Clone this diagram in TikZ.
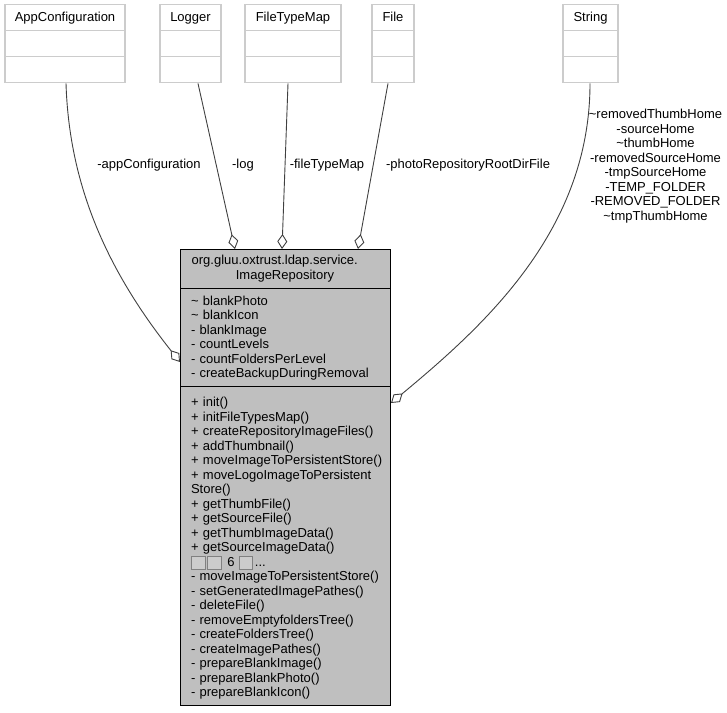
\documentclass[tikz,border=0pt]{standalone}
\usepackage{fontspec}
\setmainfont{Liberation Sans}
\usetikzlibrary{positioning,arrows.meta,shapes.multipart}

\definecolor{boxgray}{HTML}{BFBFBF}
\definecolor{edgegray}{HTML}{404040}
\definecolor{rimgray}{HTML}{CCCCCC}

% the boxes that the font could not fill
\newcommand{\tofu}{{\setlength{\fboxrule}{1pt}\fcolorbox{gray}{rimgray}{\rule{0pt}{6.5pt}\rule{6.5pt}{0pt}}}\hspace{1.5pt}}

\begin{document}
\begin{tikzpicture}[x=1pt,y=-1pt,->,>={Diamond[length=15pt,width=10pt,fill=white]},
	edgegray,line width=0.9pt,font=\fontsize{13}{14.5}\selectfont,node distance=35pt]

	\tikzstyle{refclass}=[rectangle split,rectangle split parts=3,draw=rimgray,line width=1.2pt,
		fill=white,text=black,inner ysep=0pt,inner xsep=0pt,rectangle split empty part height=25pt,
		rectangle split empty part width=0pt]
	\tikzstyle{mainpart}=[draw=black,line width=1pt,fill=boxgray,text=black,text width=188pt,
		inner xsep=11pt,inner ysep=0pt,outer sep=0pt,align=left]
	\tikzstyle{edgelabel}=[text=black,align=center,inner sep=0pt]

	\useasboundingbox (0,0) rectangle (727,712);

	\node [refclass,minimum width=120pt] (appconfiguration) at (65,43.5)
		{\rule[-8pt]{0pt}{25pt}AppConfiguration};
	\node [refclass,minimum width=61pt]  (logger) at (190.5,43.5)
		{\rule[-8pt]{0pt}{25pt}Logger};
	\node [refclass,minimum width=96pt]  (filetypemap) at (293,43.5)
		{\rule[-8pt]{0pt}{25pt}FileTypeMap};
	\node [refclass,minimum width=42pt]  (file) at (393,43.5)
		{\rule[-8pt]{0pt}{25pt}File};
	\node [refclass,minimum width=55pt]  (string) at (590.5,43.5)
		{\rule[-8pt]{0pt}{25pt}String};

	\node [mainpart,align=center,minimum height=39pt,anchor=north] (title) at (285,249)
		{\mbox{org.gluu.oxtrust.ldap.service.\hspace{20.5pt}}\\ImageRepository};
	\node [mainpart,minimum height=98pt,below=0pt of title] (attributes)
		{\rule{0pt}{11.5pt}\textasciitilde{} blankPhoto\\\textasciitilde{} blankIcon\\- blankImage\\- countLevels\\
		- countFoldersPerLevel\\- createBackupDuringRemoval};
	\node [mainpart,minimum height=319pt,below=0pt of attributes] (methods)
		{\rule{0pt}{15.5pt}+ init()\\+ initFileTypesMap()\\+ createRepositoryImageFiles()\\+ addThumbnail()\\
		\mbox{+ moveImageToPersistentStore()}\\+ moveLogoImageToPersistent\\Store()\\+ getThumbFile()\\
		+ getSourceFile()\\+ getThumbImageData()\\+ getSourceImageData()\\
		\tofu\tofu{} 6 \tofu...\\\mbox{- moveImageToPersistentStore()}\\- setGeneratedImagePathes()\\
		- deleteFile()\\- removeEmptyfoldersTree()\\- createFoldersTree()\\- createImagePathes()\\
		- prepareBlankImage()\\- prepareBlankPhoto()\\- prepareBlankIcon()};

	\coordinate (logtip)    at (235,249);
	\coordinate (filetip)   at (282,249);
	\coordinate (phototip)  at (358,249);
	\coordinate (configtip) at (180,362);
	\coordinate (stringtip) at (391,403);

	\draw ([xshift=1pt]appconfiguration.south) .. controls (69,180) and (103,265) .. (configtip);
	\draw ([xshift=7.5pt]logger.south) -- (logtip);
	\draw ([xshift=-5pt]filetypemap.south) -- (filetip);
	\draw ([xshift=-5pt]file.south) -- (phototip);
	\draw ([xshift=-0.5pt]string.south) .. controls (590,230) and (485,325) .. (stringtip);

	\node [edgelabel] (configlabel) at (149,165.5) {-appConfiguration};
	\node [edgelabel] (loglabel)    at (243,165.5) {-log};
	\node [edgelabel] (filelabel)   at (327,165.5) {-fileTypeMap};
	\node [edgelabel] (photolabel)  at (468,165.5) {-photoRepositoryRootDirFile};
	\node [edgelabel] (stringlabel) at (655.5,166) {\textasciitilde removedThumbHome\\-sourceHome\\
		\textasciitilde thumbHome\\-removedSourceHome\\-tmpSourceHome\\-TEMP\_FOLDER\\
		-REMOVED\_FOLDER\\\textasciitilde tmpThumbHome};
\end{tikzpicture}
\end{document}
